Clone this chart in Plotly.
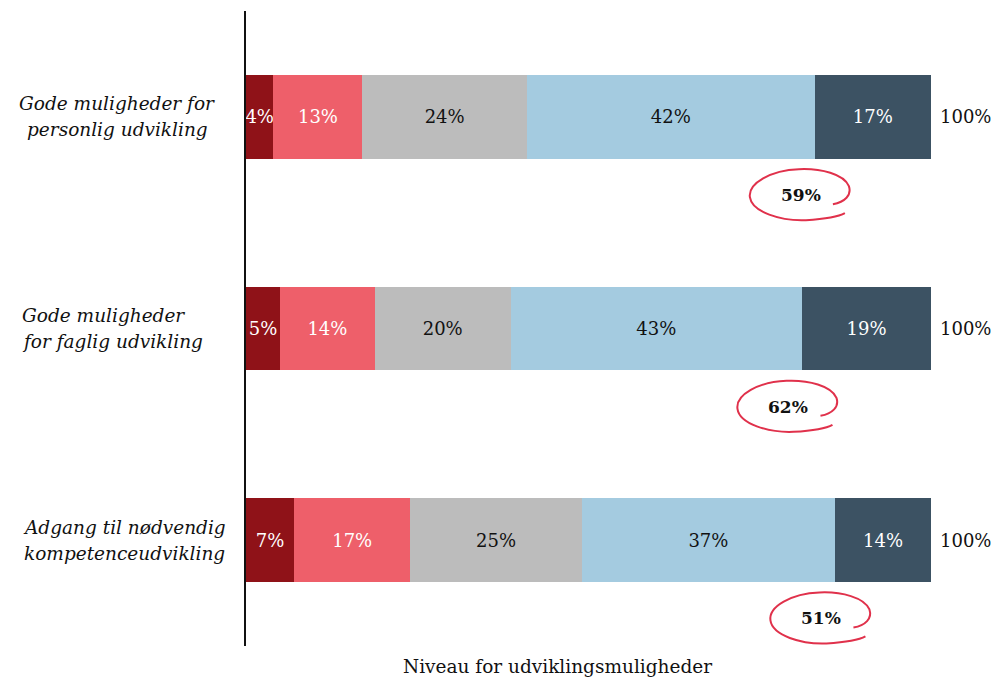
import plotly.graph_objects as go

# Survey results: share of answers per level, one stacked bar per statement
categories = [
    "Gode muligheder for\npersonlig udvikling",
    "Gode muligheder\nfor faglig udvikling",
    "Adgang til nødvendig\nkompetenceudvikling",
]
label_align = ["center", "left", "center"]

segment_names = ["Meget lavt", "Lavt", "Hverken/eller", "Højt", "Meget højt"]
segment_values = [
    [4, 5, 7],
    [13, 14, 17],
    [24, 20, 25],
    [42, 43, 37],
    [17, 19, 14],
]
segment_colors = ["#8f1218", "#ee5f6a", "#bcbcbc", "#a4cbe0", "#3c5263"]
segment_text_colors = ["white", "white", "#111111", "#111111", "white"]

total_label = "100%"
axis_title = "Niveau for udviklingsmuligheder"

FONT = "DejaVu Serif"
W, H = 992, 678
ML, MR, MT, MB = 246, 13, 11, 32
X_MAX = 107

ypos = list(range(len(categories)))

fig = go.Figure()
for name, vals, col, tcol in zip(segment_names, segment_values, segment_colors, segment_text_colors):
    fig.add_trace(go.Bar(
        name=name,
        y=ypos,
        x=vals,
        orientation="h",
        width=0.396,
        marker=dict(color=col, line=dict(width=0)),
        text=[f"{v}%" for v in vals],
        textposition="inside",
        insidetextanchor="middle",
        textangle=0,
        textfont=dict(family=FONT, size=18, color=tcol),
        hoverinfo="skip",
    ))

annotations = []
shapes = []

plot_w = W - ML - MR


def px_to_paper(px):
    return (px - ML) / plot_w


# statement labels to the left of the axis, one annotation per line
for i, (cat, al) in enumerate(zip(categories, label_align)):
    lines = cat.split("\n")
    for j, line in enumerate(lines):
        offset = (j - (len(lines) - 1) / 2) * 26
        if al == "left":
            x, xa = px_to_paper(20), "left"
        else:
            x, xa = px_to_paper(117 if i == 0 else 124), "center"
        annotations.append(dict(
            text=f"<i>{line}</i>", xref="paper", yref="y", x=x, y=i,
            xanchor=xa, yanchor="middle", yshift=-offset, showarrow=False,
            font=dict(family=FONT, size=18.5, color="#111111"),
        ))
    # total at the end of each bar
    annotations.append(dict(
        text=total_label, xref="x", yref="y", x=100, y=i, xanchor="left",
        yanchor="middle", xshift=7, showarrow=False,
        font=dict(family=FONT, size=18, color="#111111"),
    ))

# hand-drawn loop around the share of the two highest levels
loop_path = (
    "M 32,-9 C 44,-7 51,0 48,9 C 43,21 20,27 -2,26 "
    "C -30,25 -53,12 -51,-2 C -49,-17 -20,-26 5,-25 "
    "C 22,-24 37,-22 44,-18"
)
for i in ypos:
    col_vals = [seg[i] for seg in segment_values]
    total = sum(col_vals)
    top_two = col_vals[3] + col_vals[4]
    start_dark = sum(col_vals[:4]) / total * 100
    cx = start_dark - 2
    cy = i + 0.37
    shapes.append(dict(
        type="path", xref="x", yref="y", xsizemode="pixel", ysizemode="pixel",
        xanchor=cx, yanchor=cy, path=loop_path,
        line=dict(color="#e0314b", width=2),
    ))
    annotations.append(dict(
        text=f"<b>{top_two}%</b>", xref="x", yref="y", x=cx, y=cy,
        xanchor="center", yanchor="middle", showarrow=False,
        font=dict(family=FONT, size=17, color="#111111"),
    ))

annotations.append(dict(
    text=axis_title, xref="x", yref="paper", x=45.5, y=0, yshift=-20,
    xanchor="center", yanchor="middle", showarrow=False,
    font=dict(family=FONT, size=18.5, color="#111111"),
))

fig.update_layout(
    width=W, height=H,
    margin=dict(l=ML, r=MR, t=MT, b=MB),
    barmode="stack",
    barnorm="percent",
    showlegend=False,
    plot_bgcolor="white",
    paper_bgcolor="white",
    uniformtext=dict(minsize=18, mode="show"),
    xaxis=dict(range=[0, X_MAX], showgrid=False, zeroline=False,
               showticklabels=False, showline=False, fixedrange=True),
    yaxis=dict(range=[2.5, -0.5], showgrid=False, zeroline=False,
               showticklabels=False, showline=True, linecolor="#111111",
               linewidth=2, ticks="", fixedrange=True),
    annotations=annotations,
    shapes=shapes,
)

fig.write_html("out.html")
